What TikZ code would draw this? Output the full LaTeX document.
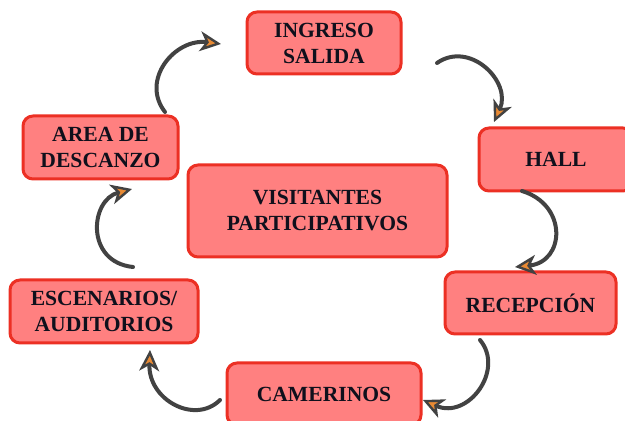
\documentclass[tikz,border=0pt]{standalone}
\usepackage{fontspec}
\setmainfont{Liberation Serif}
\usepackage{tikz}
\usetikzlibrary{
  arrows.meta,
  positioning
}
\definecolor{boxred}{RGB}{236,48,36}
\definecolor{boxpink}{RGB}{255,128,128}
\definecolor{loopgray}{RGB}{66,66,66}
\definecolor{tiporange}{RGB}{232,138,52}
\definecolor{inkblack}{RGB}{16,16,28}
\tikzset{
  area/.style={draw=boxred,line width=1.5pt,fill=boxpink,
    rounded corners=5pt,align=center,inner sep=2pt,text=inkblack,
    font=\fontsize{10.8}{13}\selectfont\bfseries},
  loopflow/.style={-{Stealth[length=10.5pt,width=10pt,inset=3pt,
    fill=tiporange,line width=1.2pt]},line width=2pt,draw=loopgray,
    line cap=round}
}
\begin{document}
\begin{tikzpicture}[x=0.5pt,y=-0.5pt]
  \useasboundingbox (0,0) rectangle (625,421);
  % boxes
  \node[area,minimum width=77pt,minimum height=31pt] (ingreso) at (324,43) {INGRESO\\SALIDA};
  \node[area,minimum width=77pt,minimum height=31.5pt] (hall) at (556,159.5) {HALL};
  \node[area,minimum width=85.5pt,minimum height=31pt] (recepcion) at (530.5,303) {RECEPCIÓN};
  \node[area,minimum width=97pt,minimum height=31pt] (camerinos) at (324,394) {CAMERINOS};
  \node[area,minimum width=94pt,minimum height=31.5pt] (escenarios) at (104,311.5) {ESCENARIOS/\\AUDITORIOS};
  \node[area,minimum width=77.5pt,minimum height=31.5pt] (descanzo) at (100.5,147.5) {AREA DE\\DESCANZO};
  \node[area,minimum width=129.5pt,minimum height=46pt] (visitantes) at (317.5,211) {VISITANTES\\PARTICIPATIVOS};
  % ends of the loop arrows
  \coordinate (s1) at (165,112);  \coordinate (e1) at (221,44);
  \coordinate (s2) at (437,63);   \coordinate (e2) at (494,122);
  \coordinate (s3) at (522,191);  \coordinate (e3) at (515,267);
  \coordinate (s4) at (480,340);  \coordinate (e4) at (423,400);
  \coordinate (s5) at (220,400);  \coordinate (e5) at (150,350);
  \coordinate (s6) at (133,267);  \coordinate (e6) at (132,189);
  \draw[loopflow] (s1) .. controls (140,80) and (175,38) .. (e1);
  \draw[loopflow] (s2) .. controls (470,40) and (512,82) .. (e2);
  \draw[loopflow] (s3) .. controls (568,205) and (565,262) .. (e3);
  \draw[loopflow] (s4) .. controls (505,370) and (468,420) .. (e4);
  \draw[loopflow] (s5) .. controls (195,425) and (148,400) .. (e5);
  \draw[loopflow] (s6) .. controls (85,262) and (90,200) .. (e6);
\end{tikzpicture}
\end{document}
